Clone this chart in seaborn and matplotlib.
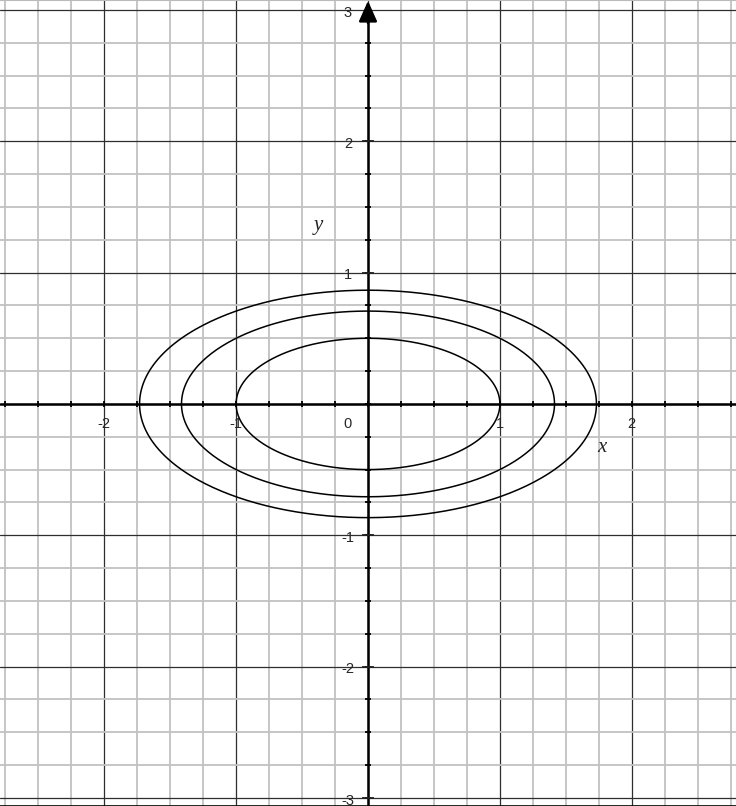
import numpy as np
import pandas as pd
import matplotlib
matplotlib.use('Agg')
import matplotlib.pyplot as plt
import seaborn as sns

# ---- data ----
x_tick_labels = [-2, -1, 0, 1, 2]
y_tick_labels = [-3, -2, -1, 1, 2, 3]
semi_x = [1.0, 1.414, 1.732]     # ellipse semi-axes along x
semi_y = [0.5, 0.707, 0.866]     # ellipse semi-axes along y

sns.set_style('white')
plt.rcParams['font.family'] = ['Liberation Sans', 'DejaVu Sans']

fig = plt.figure(figsize=(7.36, 8.06), dpi=100)
ax = fig.add_axes([0, 0, 1, 1])
ax.set_xlim(-2.79, 2.79)
ax.set_ylim(-3.062, 3.076)

ax.set_xticks(np.arange(-2, 3, 1))
ax.set_xticks(np.arange(-2.75, 2.76, 0.25), minor=True)
ax.set_yticks(np.arange(-3, 4, 1))
ax.set_yticks(np.arange(-3, 3.01, 0.25), minor=True)
ax.grid(which='minor', color='#c2c2c2', lw=1.3)
ax.grid(which='major', color='#2e2e2e', lw=0.9)
ax.tick_params(which='both', length=0, labelbottom=False, labelleft=False)
ax.set_axisbelow(True)
for s in ['left', 'right']:
    ax.spines[s].set_visible(False)
ax.spines['top'].set_color('#bbbbbb')
ax.spines['bottom'].set_color('black')
ax.spines['bottom'].set_linewidth(1.2)

# ellipses
t = np.linspace(0, 2 * np.pi, 400)
rows = []
for i, (a, b) in enumerate(zip(semi_x, semi_y)):
    rows.append(pd.DataFrame({'x': a * np.cos(t), 'y': b * np.sin(t), 'k': i}))
df = pd.concat(rows)
sns.lineplot(data=df, x='x', y='y', units='k', estimator=None, sort=False,
             color='black', lw=1.1, ax=ax, zorder=4)
ax.set_xlabel('')
ax.set_ylabel('')

# coordinate axes
ax.axhline(0, color='black', lw=1.8, zorder=3)
ax.vlines(0, -3.2, 2.95, color='black', lw=1.8, zorder=3)
qx = np.arange(-2.75, 2.76, 0.25)
qy = np.arange(-3, 2.9, 0.25)
ax.plot(qx, np.zeros_like(qx), ls='none', marker='|', ms=5, mew=1.3, color='black', zorder=3)
ax.plot(np.zeros_like(qy), qy, ls='none', marker='_', ms=5, mew=1.3, color='black', zorder=3)
iy = np.array([-3, -2, -1, 1, 2])
ax.plot(np.zeros_like(iy), iy, ls='none', marker='_', ms=8, mew=1.3, color='#222222', zorder=3)
ax.annotate('', xy=(0, 3.07), xytext=(0, 2.9),
            arrowprops=dict(arrowstyle='-|>,head_length=0.9,head_width=0.4',
                            color='black', lw=1.8, shrinkA=0, shrinkB=0,
                            mutation_scale=14), zorder=5)

# tick labels
for v in x_tick_labels:
    ax.annotate(str(v), (v, 0), xytext=(-14.4 if v == 0 else 0, -14.4),
                textcoords='offset points', ha='center', va='center', fontsize=10.5)
for v in y_tick_labels:
    ax.annotate(str(v), (0, v), xytext=(-14.4, -2.0),
                textcoords='offset points', ha='center', va='center', fontsize=10.5)

ax.text(1.77, -0.33, 'x', family='Liberation Serif', style='italic', fontsize=15,
        ha='center', va='center')
ax.text(-0.38, 1.36, 'y', family='Liberation Serif', style='italic', fontsize=15,
        ha='center', va='center')

fig.savefig('out.png', dpi=100)
